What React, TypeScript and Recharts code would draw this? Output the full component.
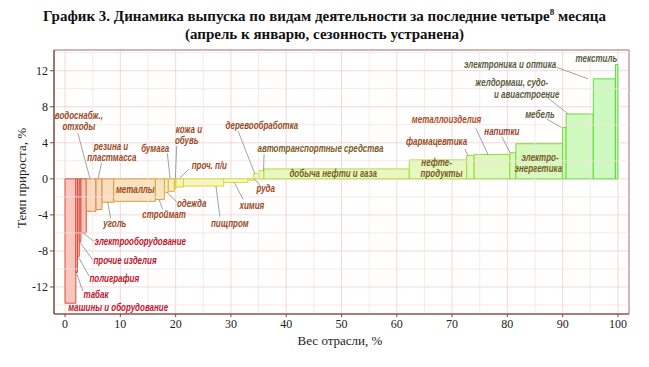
import {
  ComposedChart, XAxis, YAxis, CartesianGrid, ReferenceArea, ReferenceLine, ReferenceDot, Label,
} from 'recharts'

// industries sorted by growth rate; weight = share of output, %
const industries = [
  'машины и оборудование', 'табак', 'полиграфия', 'прочие изделия', 'электрооборудование',
  'водоснабж., отходы', 'резина и пластмасса', 'уголь', 'металлы', 'строймат',
  'одежда', 'бумага', 'кожа и обувь', 'проч. п/и', 'пищпром',
  'химия', 'руда', 'деревообработка', 'автотранспортные средства', 'добыча нефти и газа',
  'нефтепродукты', 'фармацевтика', 'металлоизделия', 'напитки', 'электроэнергетика',
  'мебель', 'желдормаш, судо- и авиастроение', 'электроника и оптика', 'текстиль',
]
const weights = [
  1.95, 0.3, 0.32, 0.3, 0.97,
  1.76, 1.09, 2.1, 7.55, 1.64,
  0.7, 1.1, 0.27, 1.36, 7.28,
  4.36, 1.09, 0.91, 0.91, 26.3,
  10.37, 1.36, 6.46, 1.09, 8.45,
  0.64, 4.91, 4.0, 0.45,
]
const growth = [
  -13.8, -10.4, -8.6, -7.0, -6.0,
  -3.6, -3.4, -2.6, -2.5, -2.3,
  -1.5, -1.4, -1.1, -0.9, -0.8,
  -0.4, -0.15, 0.6, 0.9, 1.1,
  2.1, 2.6, 2.7, 2.9, 3.9,
  5.7, 7.2, 11.1, 12.7,
]
const xTicks = [0, 10, 20, 30, 40, 50, 60, 70, 80, 90, 100]
const yTicks = [-12, -8, -4, 0, 4, 8, 12]
const xMinor = [5, 15, 25, 35, 45, 55, 65, 75, 85, 95]
const yMinor = [-14, -10, -6, -2, 2, 6, 10, 14]

// cumulative x extents of each bar
const bars = industries.map((name, i) => {
  const x1 = weights.slice(0, i).reduce((s, w) => s + w, 0)
  return { name, x1, x2: x1 + weights[i], value: growth[i] }
})

const hueOf = (i: number) => (i < 5 ? 7 : 26 + (i - 5) * 3.6)

const RED = '#c0142c'
const BROWN = '#9a4a1c'
const OLIVE = '#7a5a1e'
const GREY = '#5a5c40'

// annotation placement (data coords), leader line end points
const notes: { text: string; x: number; y: number; color: string; line?: [number, number, number, number] }[] = [
  { text: 'машины и оборудование', x: 9.6, y: -14.3, color: RED },
  { text: 'табак', x: 5.6, y: -12.8, color: RED, line: [3.2, -12.45, 2.1, -10.5] },
  { text: 'полиграфия', x: 8.9, y: -11.05, color: RED, line: [4.4, -10.86, 2.45, -8.7] },
  { text: 'прочие изделия', x: 10.85, y: -9.09, color: RED, line: [5.0, -9.0, 2.75, -7.1] },
  { text: 'электрооборудование', x: 13.6, y: -6.98, color: RED, line: [5.3, -6.98, 3.3, -6.0] },
  { text: 'водоснабж.,', x: 2.5, y: 7.0, color: BROWN },
  { text: 'отходы', x: 2.5, y: 5.75, color: BROWN, line: [2.3, 5.1, 4.5, 0.05] },
  { text: 'резина и', x: 8.3, y: 3.6, color: BROWN },
  { text: 'пластмасса', x: 8.45, y: 2.35, color: BROWN, line: [6.6, 1.8, 6.0, 0.05] },
  { text: 'уголь', x: 9.0, y: -4.94, color: BROWN, line: [8.26, -4.38, 7.72, -2.6] },
  { text: 'металлы', x: 12.7, y: -1.17, color: BROWN },
  { text: 'строймат', x: 17.9, y: -3.94, color: BROWN, line: [17.66, -3.39, 17.0, -2.3] },
  { text: 'бумага', x: 16.3, y: 3.3, color: BROWN, line: [18.5, 2.83, 19.0, 0.05] },
  { text: 'одежда', x: 22.9, y: -2.72, color: BROWN, line: [20.2, -2.54, 18.4, -1.5] },
  { text: 'кожа и', x: 22.4, y: 5.45, color: BROWN },
  { text: 'обувь', x: 22.0, y: 4.2, color: BROWN, line: [20.2, 3.67, 19.95, 0.05] },
  { text: 'проч. п/и', x: 26.1, y: 1.45, color: BROWN, line: [22.4, 1.09, 20.7, 0.05] },
  { text: 'пищпром', x: 29.8, y: -4.94, color: BROWN, line: [28.0, -4.2, 27.3, -0.8] },
  { text: 'химия', x: 33.8, y: -3.02, color: BROWN, line: [32.2, -2.28, 30.6, -0.4] },
  { text: 'руда', x: 36.3, y: -1.13, color: BROWN, line: [35.3, -0.77, 34.2, 0.0] },
  { text: 'деревообработка', x: 35.6, y: 5.9, color: BROWN, line: [31.3, 5.3, 34.3, 0.6] },
  { text: 'автотранспортные средства', x: 46.2, y: 3.38, color: OLIVE, line: [36.0, 2.75, 35.9, 0.9] },
  { text: 'добыча нефти и газа', x: 48.5, y: 0.62, color: OLIVE },
  { text: 'нефте-', x: 67.2, y: 1.78, color: OLIVE },
  { text: 'продукты', x: 68.1, y: 0.55, color: OLIVE },
  { text: 'фармацевтика', x: 67.2, y: 4.12, color: BROWN, line: [72.3, 3.31, 72.9, 2.6] },
  { text: 'металлоизделия', x: 69.0, y: 6.53, color: '#b0482a', line: [74.3, 5.6, 76.5, 2.7] },
  { text: 'напитки', x: 79.0, y: 5.23, color: '#a03c2a', line: [79.0, 4.67, 80.5, 2.9] },
  { text: 'электро-', x: 85.9, y: 2.34, color: OLIVE },
  { text: 'энергетика', x: 85.6, y: 1.11, color: OLIVE },
  { text: 'мебель', x: 85.9, y: 7.08, color: GREY, line: [87.1, 6.64, 89.8, 5.7] },
  { text: 'желдормаш, судо-', x: 80.8, y: 10.65, color: GREY },
  { text: 'и авиастроение', x: 83.5, y: 9.3, color: GREY, line: [87.1, 9.1, 91.0, 7.2] },
  { text: 'электроника и оптика', x: 80.5, y: 12.63, color: GREY, line: [88.9, 12.38, 94.6, 11.1] },
  { text: 'текстиль', x: 96.1, y: 13.37, color: GREY },
]

const serif = '"Liberation Serif", Tinos, "Times New Roman", "DejaVu Serif", serif'
const labelFont = '"Liberation Sans", Arimo, Arial, sans-serif'
const axisColor = '#7a4a40'
const tickStyle = { fill: '#222', fontSize: 12, fontFamily: serif }

export default function App() {
  return (
    <div style={{ position: 'absolute', left: 0, top: 0, width: 649, height: 367, background: '#fff', fontFamily: serif }}>
      <div style={{ position: 'absolute', top: 7, left: 0, width: 649, textAlign: 'center', fontWeight: 'bold', fontSize: 15, lineHeight: '18px', color: '#111', fontFamily: serif }}>
        <div>График 3. Динамика выпуска по видам деятельности за последние четыре<sup style={{ fontSize: 9, lineHeight: 0 }}>8</sup> месяца</div>
        <div>(апрель к январю, сезонность устранена)</div>
      </div>
      <ComposedChart
        width={649}
        height={367}
        margin={{ top: 50, right: 20, bottom: 0, left: 0 }}
        style={{ position: 'absolute', left: 0, top: 0 }}
      >
        <CartesianGrid stroke="#efcfcf" strokeWidth={0.8} />
        {xMinor.map((v) => (
          <ReferenceLine key={'xm' + v} x={v} stroke="#f6e2e2" strokeWidth={0.8} />
        ))}
        {yMinor.map((v) => (
          <ReferenceLine key={'ym' + v} y={v} stroke="#f6e2e2" strokeWidth={0.8} />
        ))}
        <XAxis
          type="number"
          dataKey="x"
          domain={[-2, 102]}
          allowDataOverflow
          ticks={xTicks}
          interval={0}
          height={53}
          tick={tickStyle}
          tickSize={3}
          tickLine={{ stroke: axisColor }}
          axisLine={{ stroke: axisColor, strokeWidth: 1.2 }}
        >
          <Label
            content={() => (
              <text x={340} y={345} textAnchor="middle" fontFamily={serif} fontSize={13} fill="#222">Вес отрасли, %</text>
            )}
          />
        </XAxis>
        <YAxis
          type="number"
          domain={[-15, 14.3]}
          allowDataOverflow
          ticks={yTicks}
          interval={0}
          width={54}
          tick={tickStyle}
          tickSize={4}
          tickLine={{ stroke: axisColor }}
          axisLine={{ stroke: axisColor, strokeWidth: 1.2 }}
        >
          <Label
            content={() => (
              <text x={26} y={178} transform="rotate(-90 26 178)" textAnchor="middle" fontFamily={serif} fontSize={13} fill="#222">
                Темп прироста, %
              </text>
            )}
          />
        </YAxis>

        {bars.map((b, i) => (
          <ReferenceArea
            key={b.name}
            x1={b.x1}
            x2={b.x2}
            y1={0}
            y2={b.value}
            fill={`hsl(${hueOf(i)}, 80%, 86%)`}
            fillOpacity={1}
            stroke={`hsl(${hueOf(i)}, 68%, 55%)`}
            strokeWidth={1}
          />
        ))}

        {notes.filter((n) => n.line).map((n) => (
          <ReferenceLine
            key={'l' + n.text}
            segment={[{ x: n.line![0], y: n.line![1] }, { x: n.line![2], y: n.line![3] }]}
            stroke="#8a8a8a"
            strokeWidth={0.8}
          />
        ))}
        {notes.map((n) => (
          <ReferenceDot
            key={'t' + n.text}
            x={n.x}
            y={n.y}
            r={0}
            shape={(p: any) => (
              <text
                transform={`translate(${p.cx},${p.cy}) scale(0.76,1)`}
                textAnchor="middle"
                dominantBaseline="central"
                fontFamily={labelFont}
                fontStyle="italic"
                fontWeight="bold"
                fontSize={10.5}
                fill={n.color}
              >
                {n.text}
              </text>
            )}
          />
        ))}
        <ReferenceArea x1={-2} x2={102} y1={-15} y2={14.3} fill="none" stroke="#a88080" strokeWidth={1} />
      </ComposedChart>
    </div>
  )
}
